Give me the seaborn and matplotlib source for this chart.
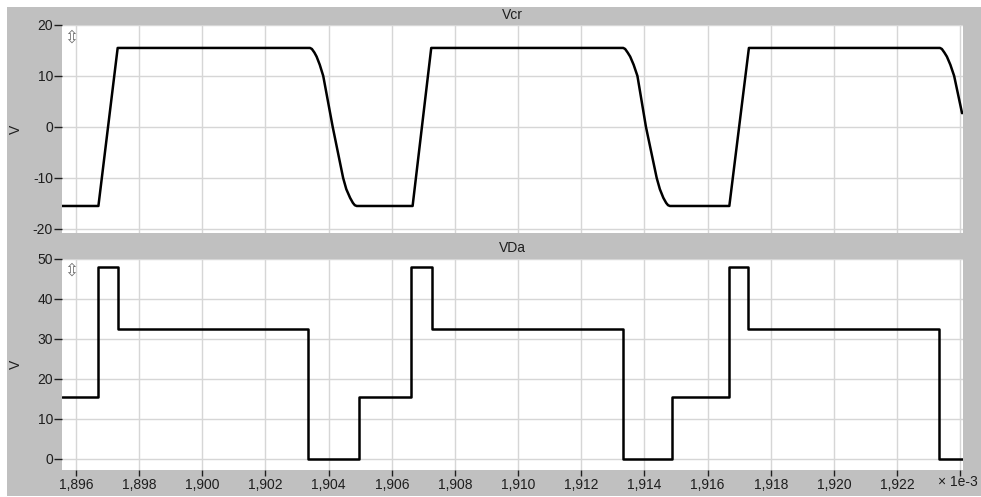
import matplotlib
matplotlib.use("Agg")
import matplotlib.pyplot as plt
import seaborn as sns
import pandas as pd

# ---------------- data (time in units of 1e-3) ----------------
vcr_t = [1895.55, 1896.71, 1897.32, 1903.41, 1903.47, 1903.55, 1903.62, 1903.72,
         1903.83, 1904.13, 1904.46, 1904.56, 1904.68, 1904.77, 1904.83, 1904.89,
         1906.66, 1907.25, 1913.33, 1913.39, 1913.47, 1913.55, 1913.66, 1913.78,
         1914.05, 1914.39, 1914.49, 1914.60, 1914.69, 1914.75, 1914.81,
         1916.69, 1917.31, 1923.36, 1923.42, 1923.50, 1923.58, 1923.69, 1923.81,
         1924.06]
vcr_v = [-15.5, -15.5, 15.5, 15.5, 15.3, 14.6, 13.8, 12.2,
         10.0, 0.0, -10.0, -12.2, -13.9, -14.9, -15.35, -15.5,
         -15.5, 15.5, 15.5, 15.3, 14.6, 13.8, 12.2, 10.0,
         0.0, -10.0, -12.2, -13.9, -14.9, -15.35, -15.5,
         -15.5, 15.5, 15.5, 15.3, 14.6, 13.8, 12.2, 10.0,
         2.7]

vda_t = [1895.55, 1896.69, 1897.34, 1903.34, 1904.95, 1906.62, 1907.26,
         1913.32, 1914.87, 1916.68, 1917.29, 1923.34, 1924.09]
vda_v = [15.5, 48.0, 32.5, 0.0, 15.5, 48.0, 32.5,
         0.0, 15.5, 48.0, 32.5, 0.0, 0.0]

x_ticks = [1896, 1898, 1900, 1902, 1904, 1906, 1908, 1910, 1912, 1914,
           1916, 1918, 1920, 1922, 1924]
x_labels = ["1,896", "1,898", "1,900", "1,902", "1,904", "1,906", "1,908",
            "1,910", "1,912", "1,914", "1,916", "1,918", "1,920", "1,922", ""]
top_yticks = [-20, -10, 0, 10, 20]
bot_yticks = [0, 10, 20, 30, 40, 50]
titles = ["Vcr", "VDa"]
y_unit = "V"
x_mult = "\u00d7 1e-3"

# ---------------- styling ----------------
sns.set_theme(style="white")
plt.rcParams["font.family"] = ["Liberation Sans", "DejaVu Sans"]

W, H = 981, 497
fig = plt.figure(figsize=(W / 100, H / 100), dpi=100, facecolor="white")
GRAY = "#c0c0c0"
GRID = "#d6d6d6"
TXT = "#1e1e1e"

# gray panel background
bg = fig.add_axes([7 / W, 1 / H, (W - 7) / W, (H - 8) / H])
bg.set_facecolor(GRAY)
bg.set_xticks([]); bg.set_yticks([])
for s in bg.spines.values():
    s.set_visible(False)

def px_axes(left, top, right, bottom):
    return fig.add_axes([left / W, (H - bottom) / H, (right - left) / W, (bottom - top) / H])

ax1 = px_axes(62, 25, 963, 233)
ax2 = px_axes(62, 258.5, 963, 470)

df1 = pd.DataFrame({"t": vcr_t, "v": vcr_v})
df2 = pd.DataFrame({"t": vda_t, "v": vda_v})

sns.lineplot(data=df1, x="t", y="v", ax=ax1, color="black", linewidth=1.8,
             estimator=None, sort=False, zorder=3)
sns.lineplot(data=df2, x="t", y="v", ax=ax2, color="black", linewidth=1.8,
             estimator=None, sort=False, drawstyle="steps-post", zorder=3)

for ax, yt, ylim in [(ax1, top_yticks, (-20.8, 20.0)), (ax2, bot_yticks, (-2.75, 50.1))]:
    ax.set_facecolor("white")
    ax.set_xlim(1895.557, 1924.09)
    ax.set_ylim(*ylim)
    ax.set_yticks(yt)
    ax.set_yticklabels([str(v) for v in yt])
    ax.set_xticks(x_ticks)
    ax.grid(True, color=GRID, linewidth=1.0, zorder=0)
    ax.set_axisbelow(True)
    for s in ax.spines.values():
        s.set_visible(False)
    ax.set_xlabel("")
    ax.set_ylabel("")
    ax.tick_params(axis="y", which="both", left=True, length=5.5, width=1.0,
                   color=TXT, pad=1, labelsize=10, labelcolor=TXT)
    # small scroll icon
    ax.text(0.002, 0.985, "\u21f3", transform=ax.transAxes, ha="left", va="top",
            fontsize=12, color="#707070", family=["DejaVu Sans"])

ax1.tick_params(axis="x", bottom=False, labelbottom=False)
ax2.set_xticklabels(x_labels)
ax2.tick_params(axis="x", bottom=True, length=4, width=1.0, color=TXT,
                pad=2, labelsize=10, labelcolor=TXT)

# titles, units
fig.text(512.5 / W, 1 - 15 / H, titles[0], ha="center", va="center", fontsize=10, color=TXT)
fig.text(512.5 / W, 1 - 248 / H, titles[1], ha="center", va="center", fontsize=10, color=TXT)
fig.text(16 / W, 1 - 129 / H, y_unit, rotation=90, ha="center", va="center", fontsize=10, color=TXT)
fig.text(16 / W, 1 - 364 / H, y_unit, rotation=90, ha="center", va="center", fontsize=10, color=TXT)
fig.text(958 / W, 1 - 482 / H, x_mult, ha="center", va="center", fontsize=10, color=TXT)

fig.savefig("out.png", dpi=100, facecolor="white")
